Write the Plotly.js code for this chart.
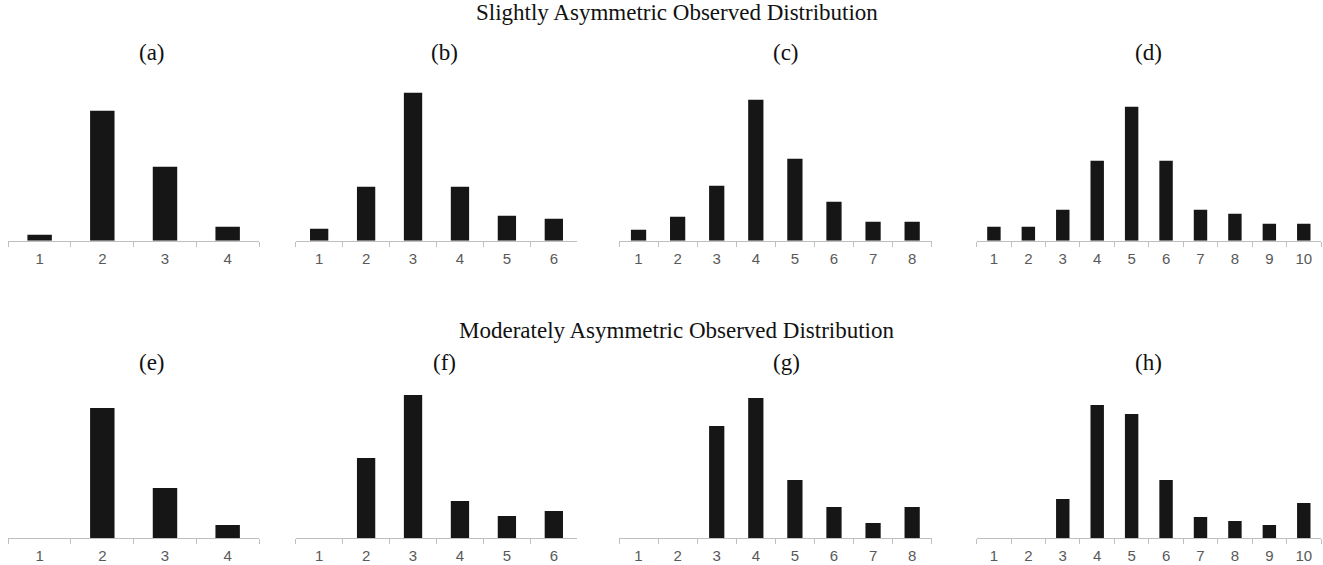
<!DOCTYPE html>
<html>
<head>
<meta charset="utf-8">
<script src="https://cdn.plot.ly/plotly-3.0.1.min.js"></script>
<style>html,body{margin:0;padding:0;background:#fff;}#chart{width:1323px;height:565px;}</style>
</head>
<body>
<div id="chart"></div>
<script>
// Category labels
var cats4 = ['1','2','3','4'];
var cats6 = ['1','2','3','4','5','6'];
var cats8 = ['1','2','3','4','5','6','7','8'];
var cats10 = ['1','2','3','4','5','6','7','8','9','10'];

// Relative frequencies (common relative scale)
var valsA = [6, 130, 74, 14];
var valsB = [12, 54, 148, 54, 25, 22];
var valsC = [11, 24, 55, 141, 82, 39, 19, 19];
var valsD = [14, 14, 31, 80, 134, 80, 31, 27, 17, 17];
var valsE = [0, 130, 50, 13];
var valsF = [0, 80, 143, 37, 22, 27];
var valsG = [0, 0, 112, 140, 58, 31, 15, 31];
var valsH = [0, 0, 39, 133, 124, 58, 21, 17, 13, 35];

var panelLabels = ['(a)','(b)','(c)','(d)','(e)','(f)','(g)','(h)'];
var rowTitles = ['Slightly Asymmetric Observed Distribution', 'Moderately Asymmetric Observed Distribution'];

var W = 1323, H = 565;
var panels = [
  {cats: cats4, vals: valsA}, {cats: cats6, vals: valsB}, {cats: cats8, vals: valsC}, {cats: cats10, vals: valsD},
  {cats: cats4, vals: valsE}, {cats: cats6, vals: valsF}, {cats: cats8, vals: valsG}, {cats: cats10, vals: valsH}
];

// layout geometry (pixels)
var colX = [[8.3, 259], [295.7, 577.3], [619, 931.7], [976.7, 1321]];
var rowBase = [240.7, 538];
var plotH = 150;
var labelCX = [152, 444, 786, 1148];
var rowLabelY = [52, 362];
var rowTitleY = [12.5, 330];

var data = [];
var layout = {
  width: W, height: H,
  margin: {l: 0, r: 0, t: 0, b: 0},
  paper_bgcolor: '#ffffff', plot_bgcolor: 'rgba(0,0,0,0)',
  showlegend: false,
  bargap: 0.61,
  annotations: []
};

panels.forEach(function (p, i) {
  var row = Math.floor(i / 4), col = i % 4;
  var sfx = (i === 0) ? '' : String(i + 1);
  data.push({
    type: 'bar', x: p.cats, y: p.vals,
    xaxis: 'x' + sfx, yaxis: 'y' + sfx,
    marker: {color: '#161616', line: {width: 0}},
    hoverinfo: 'skip'
  });
  var base = rowBase[row];
  var y0 = (H - base) / H, y1 = (H - base + plotH) / H;
  layout['xaxis' + sfx] = {
    domain: [colX[col][0] / W, colX[col][1] / W],
    anchor: 'y' + sfx,
    type: 'category',
    range: [-0.5, p.cats.length - 0.5],
    tickson: 'boundaries',
    ticks: 'outside', ticklen: 5, tickcolor: '#bfbfbf', tickwidth: 1,
    showline: true, linecolor: '#bfbfbf', linewidth: 1,
    showgrid: false, zeroline: false, fixedrange: true,
    ticklabelstandoff: 4,
    tickfont: {family: 'Liberation Sans, Arial, sans-serif', size: 15, color: '#595959'}
  };
  layout['yaxis' + sfx] = {
    domain: [y0, y1], anchor: 'x' + sfx,
    range: [0, plotH], visible: false, fixedrange: true
  };
  layout.annotations.push({
    text: panelLabels[i], xref: 'paper', yref: 'paper',
    x: labelCX[col] / W, y: 1 - rowLabelY[row] / H,
    xanchor: 'center', yanchor: 'middle', showarrow: false,
    font: {family: 'Liberation Serif, Times New Roman, serif', size: 23, color: '#111111'}
  });
});

rowTitles.forEach(function (t, r) {
  layout.annotations.push({
    text: t, xref: 'paper', yref: 'paper',
    x: 676.5 / W, y: 1 - rowTitleY[r] / H,
    xanchor: 'center', yanchor: 'middle', showarrow: false,
    font: {family: 'Liberation Serif, Times New Roman, serif', size: 23, color: '#111111'}
  });
});

Plotly.newPlot('chart', data, layout, {staticPlot: true, displayModeBar: false});
</script>
</body>
</html>
